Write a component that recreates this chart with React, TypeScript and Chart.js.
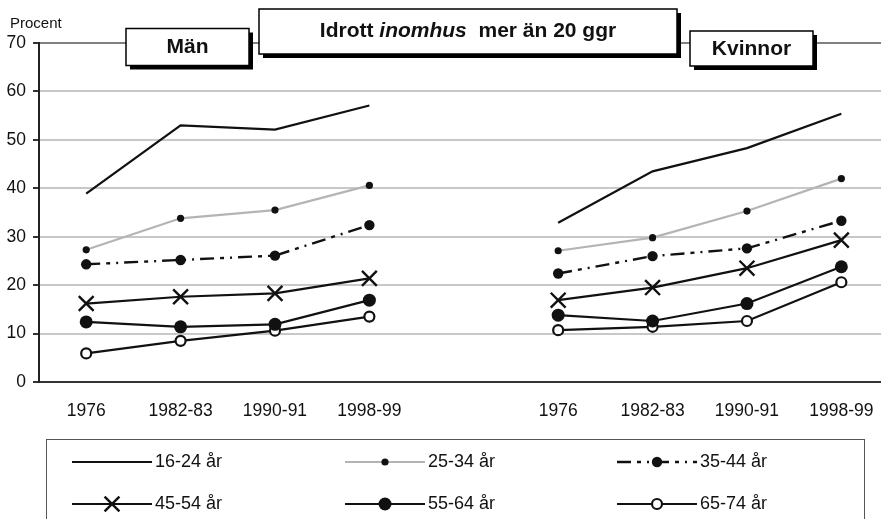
import React, { useEffect, useRef } from 'react';
import { Chart, registerables } from 'chart.js';

Chart.register(...registerables);

// ---- Data ----
const categories = ['1976', '1982-83', '1990-91', '1998-99'];
const groupLabels = ['Män', 'Kvinnor'];
const chartTitle = ['Idrott ', 'inomhus', '  mer än 20 ggr'];
const yLabel = 'Procent';
const seriesLabels = ['16-24 år', '25-34 år', '35-44 år', '45-54 år', '55-64 år', '65-74 år'];
const yTicks = [0, 10, 20, 30, 40, 50, 60, 70];

const men_16_24 = [38.9, 53.0, 52.1, 57.1];
const men_25_34 = [27.3, 33.8, 35.5, 40.6];
const men_35_44 = [24.3, 25.2, 26.1, 32.4];
const men_45_54 = [16.2, 17.6, 18.3, 21.4];
const men_55_64 = [12.4, 11.4, 11.9, 16.9];
const men_65_74 = [5.9, 8.5, 10.6, 13.5];

const women_16_24 = [32.9, 43.5, 48.3, 55.4];
const women_25_34 = [27.1, 29.8, 35.3, 42.0];
const women_35_44 = [22.4, 26.0, 27.6, 33.3];
const women_45_54 = [16.9, 19.5, 23.5, 29.3];
const women_55_64 = [13.8, 12.6, 16.2, 23.8];
const women_65_74 = [10.7, 11.4, 12.6, 20.6];

const menSeries = [men_16_24, men_25_34, men_35_44, men_45_54, men_55_64, men_65_74];
const womenSeries = [women_16_24, women_25_34, women_35_44, women_45_54, women_55_64, women_65_74];

// index positions on the x axis: men 0..3, gap at 4, women 5..8
const GAP = 4;
const WOMEN_OFFSET = 5;

const FONT = "'Liberation Sans', Arial, Helvetica, sans-serif";
const INK = '#111111';

type Style = {
  color: string;
  width: number;
  dash: number[];
  point: string | false;
  radius: number;
  pointBg: string;
  pointBorder: string;
  pointBorderWidth: number;
};

const styles: Style[] = [
  { color: INK, width: 2.2, dash: [], point: false, radius: 0, pointBg: INK, pointBorder: INK, pointBorderWidth: 0 },
  { color: '#b4b4b4', width: 2.2, dash: [], point: 'circle', radius: 3.6, pointBg: INK, pointBorder: INK, pointBorderWidth: 0 },
  { color: INK, width: 2.4, dash: [14, 6, 4, 6, 2, 6], point: 'circle', radius: 5.2, pointBg: INK, pointBorder: INK, pointBorderWidth: 0 },
  { color: INK, width: 2.2, dash: [], point: 'crossRot', radius: 10.5, pointBg: INK, pointBorder: INK, pointBorderWidth: 2.4 },
  { color: INK, width: 2.2, dash: [], point: 'circle', radius: 6.5, pointBg: INK, pointBorder: INK, pointBorderWidth: 0 },
  { color: INK, width: 2.2, dash: [], point: 'circle', radius: 5, pointBg: '#ffffff', pointBorder: INK, pointBorderWidth: 2.2 },
];

function buildPoints(men: number[], women: number[]) {
  return [
    ...men.map((y, i) => ({ x: i, y })),
    { x: GAP, y: null as any },
    ...women.map((y, i) => ({ x: i + WOMEN_OFFSET, y })),
  ];
}

function drawMarker(ctx: CanvasRenderingContext2D, s: Style, x: number, y: number) {
  if (!s.point) return;
  ctx.save();
  ctx.setLineDash([]);
  if (s.point === 'circle') {
    ctx.beginPath();
    ctx.arc(x, y, s.radius, 0, Math.PI * 2);
    ctx.fillStyle = s.pointBg;
    ctx.fill();
    if (s.pointBorderWidth > 0) {
      ctx.lineWidth = s.pointBorderWidth;
      ctx.strokeStyle = s.pointBorder;
      ctx.stroke();
    }
  } else if (s.point === 'crossRot') {
    const r = s.radius * Math.SQRT1_2;
    ctx.beginPath();
    ctx.moveTo(x - r, y - r);
    ctx.lineTo(x + r, y + r);
    ctx.moveTo(x - r, y + r);
    ctx.lineTo(x + r, y - r);
    ctx.lineWidth = s.pointBorderWidth;
    ctx.strokeStyle = s.pointBorder;
    ctx.stroke();
  }
  ctx.restore();
}

function shadowBox(ctx: CanvasRenderingContext2D, x: number, y: number, w: number, h: number) {
  ctx.fillStyle = '#000';
  ctx.fillRect(x + 4, y + 4, w, h);
  ctx.fillStyle = '#fff';
  ctx.fillRect(x, y, w, h);
  ctx.strokeStyle = '#000';
  ctx.lineWidth = 1.5;
  ctx.strokeRect(x, y, w, h);
}

const overlayPlugin = {
  id: 'overlay',
  afterDraw(chart: any) {
    const ctx: CanvasRenderingContext2D = chart.ctx;
    ctx.save();

    // y axis caption
    ctx.font = `15px ${FONT}`;
    ctx.fillStyle = INK;
    ctx.textAlign = 'left';
    ctx.textBaseline = 'alphabetic';
    ctx.fillText(yLabel, 10, 28);

    // group boxes
    shadowBox(ctx, 126, 28.5, 123, 37);
    shadowBox(ctx, 690, 31, 123, 35);
    shadowBox(ctx, 259, 9, 418, 45);

    ctx.fillStyle = INK;
    ctx.textAlign = 'center';
    ctx.textBaseline = 'middle';
    ctx.font = `bold 21px ${FONT}`;
    ctx.fillText(groupLabels[0], 187.5, 47.5);
    ctx.fillText(groupLabels[1], 751.5, 49);

    // title with italic part
    const fonts = [`bold 21px ${FONT}`, `italic bold 21px ${FONT}`, `bold 21px ${FONT}`];
    let total = 0;
    const widths = chartTitle.map((t, i) => {
      ctx.font = fonts[i];
      const w = ctx.measureText(t).width;
      total += w;
      return w;
    });
    let tx = 468 - total / 2;
    ctx.textAlign = 'left';
    chartTitle.forEach((t, i) => {
      ctx.font = fonts[i];
      ctx.fillText(t, tx, 31.5);
      tx += widths[i];
    });

    // legend
    ctx.strokeStyle = '#555';
    ctx.lineWidth = 1;
    ctx.strokeRect(46.5, 439.5, 818, 100);
    const cols = [72, 345, 617];
    const rows = [462, 504];
    const len = 80;
    chart.data.datasets.forEach((ds: any, i: number) => {
      const s = styles[i];
      const x0 = cols[i % 3];
      const y = rows[Math.floor(i / 3)];
      ctx.save();
      ctx.strokeStyle = s.color;
      ctx.lineWidth = s.width;
      ctx.setLineDash(s.dash);
      ctx.beginPath();
      ctx.moveTo(x0, y);
      ctx.lineTo(x0 + len, y);
      ctx.stroke();
      ctx.restore();
      drawMarker(ctx, s, x0 + len / 2, y);
      ctx.font = `18px ${FONT}`;
      ctx.fillStyle = INK;
      ctx.textAlign = 'left';
      ctx.textBaseline = 'middle';
      ctx.fillText(ds.label, x0 + len + 3, y);
    });

    ctx.restore();
  },
};

export default function App() {
  const ref = useRef<HTMLCanvasElement>(null);

  useEffect(() => {
    document.body.style.margin = '0';
    if (!ref.current) return;
    const tickPositions = [0, 1, 2, 3, 5, 6, 7, 8];

    const chart = new Chart(ref.current, {
      type: 'line',
      data: {
        datasets: seriesLabels.map((label, i) => {
          const s = styles[i];
          return {
            label,
            data: buildPoints(menSeries[i], womenSeries[i]),
            borderColor: s.color,
            borderWidth: s.width,
            borderDash: s.dash,
            pointStyle: s.point as any,
            pointRadius: s.radius,
            pointHoverRadius: s.radius,
            pointBackgroundColor: s.pointBg,
            pointBorderColor: s.pointBorder,
            pointBorderWidth: s.pointBorderWidth,
            tension: 0,
            spanGaps: false,
            fill: false,
            clip: false as any,
          };
        }),
      },
      options: {
        responsive: false,
        animation: false,
        events: [],
        layout: { autoPadding: false, padding: { top: 43, left: 0, right: 0, bottom: 0 } },
        plugins: {
          legend: { display: false },
          tooltip: { enabled: false },
          title: { display: false },
        },
        scales: {
          x: {
            type: 'linear',
            min: -0.5,
            max: 8.42,
            afterFit: (scale: any) => {
              scale.height = 137;
              scale.paddingLeft = 0;
              scale.paddingRight = 0;
            },
            afterBuildTicks: (scale: any) => {
              scale.ticks = tickPositions.map((v) => ({ value: v }));
            },
            grid: { display: false, drawTicks: false },
            border: { display: true, color: '#333', width: 2 },
            ticks: {
              autoSkip: false,
              maxRotation: 0,
              padding: 19,
              color: INK,
              font: { family: FONT, size: 17.5 },
              callback: (v: any) => {
                const n = Number(v);
                if (n >= 0 && n < GAP) return categories[n];
                if (n >= WOMEN_OFFSET) return categories[n - WOMEN_OFFSET] ?? '';
                return '';
              },
            },
          },
          y: {
            min: 0,
            max: 70,
            afterFit: (scale: any) => {
              scale.width = 39;
            },
            afterBuildTicks: (scale: any) => {
              scale.ticks = yTicks.map((v) => ({ value: v }));
            },
            grid: {
              color: (c: any) =>
                c.tick && c.tick.value === 70 ? '#808080' : c.tick && c.tick.value === 0 ? 'rgba(0,0,0,0)' : '#c8c8c8',
              lineWidth: 2,
              tickColor: '#333',
              tickLength: 6,
            },
            border: { display: true, color: '#222', width: 2 },
            ticks: {
              padding: 7,
              color: INK,
              font: { family: FONT, size: 17.5 },
            },
          },
        },
      },
      plugins: [overlayPlugin],
    });

    return () => chart.destroy();
  }, []);

  return (
    <div style={{ position: 'absolute', left: 0, top: 0, width: 881, height: 519 }}>
      <canvas ref={ref} width={881} height={519} style={{ display: 'block', width: 881, height: 519 }} />
    </div>
  );
}
